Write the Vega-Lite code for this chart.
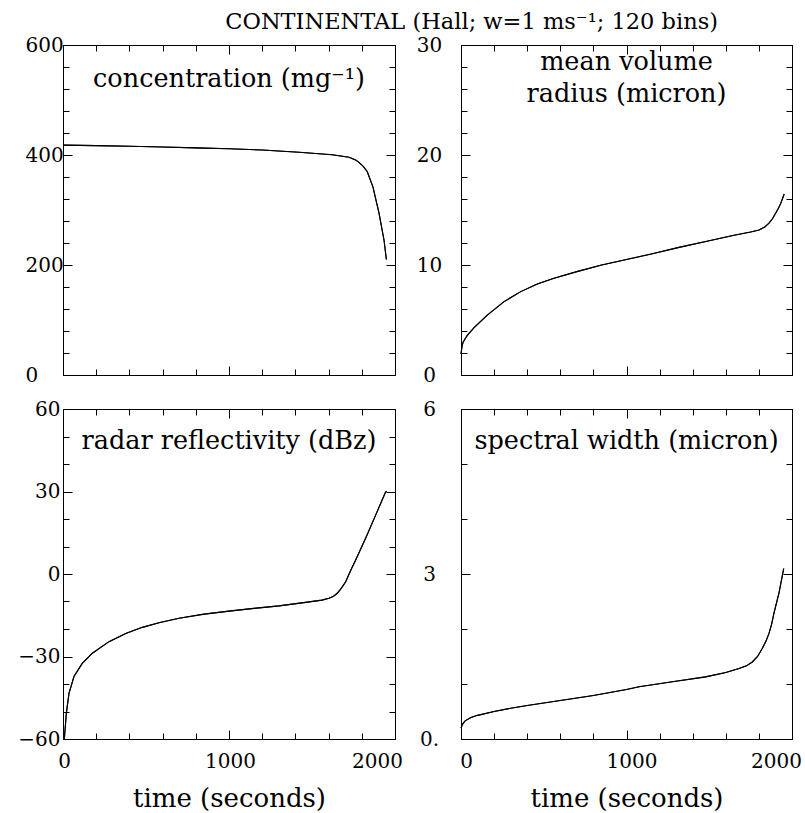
{
  "$schema": "https://vega.github.io/schema/vega-lite/v6.json",
  "padding": {"left": 17, "top": 11, "right": 5, "bottom": 5},
  "background": "white",
  "title": {"text": "CONTINENTAL (Hall; w=1 ms⁻¹; 120 bins)", "fontSize": 22.5, "font": "DejaVu Serif", "fontWeight": "normal", "anchor": "middle", "dx": 62, "offset": 1, "color": "black"},
  "datasets": {
    "conc": [
      {"t": 0, "v": 418}, {"t": 100, "v": 417.5}, {"t": 200, "v": 417}, {"t": 400, "v": 416}, {"t": 600, "v": 414.5},
      {"t": 800, "v": 413}, {"t": 1000, "v": 411.5}, {"t": 1200, "v": 409}, {"t": 1422, "v": 405}, {"t": 1622, "v": 400.5},
      {"t": 1723, "v": 395.8}, {"t": 1763, "v": 391}, {"t": 1783, "v": 386.7}, {"t": 1810, "v": 379}, {"t": 1833, "v": 369.6},
      {"t": 1867, "v": 342}, {"t": 1904, "v": 294}, {"t": 1934, "v": 245}, {"t": 1948, "v": 210}
    ],
    "radius": [
      {"t": 0, "v": 1.9}, {"t": 6, "v": 2.6}, {"t": 12, "v": 2.95}, {"t": 25, "v": 3.3}, {"t": 38, "v": 3.6}, {"t": 79, "v": 4.3},
      {"t": 159, "v": 5.45}, {"t": 260, "v": 6.67}, {"t": 361, "v": 7.58}, {"t": 461, "v": 8.27}, {"t": 562, "v": 8.79},
      {"t": 700, "v": 9.4}, {"t": 850, "v": 10.0}, {"t": 1000, "v": 10.5}, {"t": 1150, "v": 11.0}, {"t": 1317, "v": 11.6},
      {"t": 1500, "v": 12.2}, {"t": 1650, "v": 12.7}, {"t": 1750, "v": 13.0}, {"t": 1801, "v": 13.18}, {"t": 1835, "v": 13.45},
      {"t": 1861, "v": 13.8}, {"t": 1882, "v": 14.2}, {"t": 1901, "v": 14.7}, {"t": 1918, "v": 15.15}, {"t": 1932, "v": 15.6}, {"t": 1953, "v": 16.45}
    ],
    "radar": [
      {"t": 8, "v": -60}, {"t": 12, "v": -57}, {"t": 20, "v": -50.7}, {"t": 36, "v": -43.4}, {"t": 66, "v": -37.3},
      {"t": 116, "v": -32.5}, {"t": 177, "v": -28.8}, {"t": 277, "v": -24.6}, {"t": 378, "v": -21.6}, {"t": 478, "v": -19.4},
      {"t": 578, "v": -17.7}, {"t": 699, "v": -16.1}, {"t": 850, "v": -14.6}, {"t": 1000, "v": -13.5}, {"t": 1150, "v": -12.5},
      {"t": 1301, "v": -11.6}, {"t": 1450, "v": -10.4}, {"t": 1560, "v": -9.5}, {"t": 1602, "v": -8.85}, {"t": 1630, "v": -8.1}, {"t": 1652, "v": -7.0},
      {"t": 1675, "v": -5.3}, {"t": 1703, "v": -2.8}, {"t": 1730, "v": 0.9},
      {"t": 1763, "v": 5.1}, {"t": 1823, "v": 13}, {"t": 1884, "v": 21.5}, {"t": 1944, "v": 29.9}, {"t": 1950, "v": 30}
    ],
    "spec": [
      {"t": 0, "v": 0.2}, {"t": 10, "v": 0.27}, {"t": 25, "v": 0.33}, {"t": 60, "v": 0.39}, {"t": 100, "v": 0.43},
      {"t": 200, "v": 0.5}, {"t": 300, "v": 0.56}, {"t": 400, "v": 0.61}, {"t": 600, "v": 0.7}, {"t": 800, "v": 0.79},
      {"t": 1000, "v": 0.9}, {"t": 1076, "v": 0.95}, {"t": 1277, "v": 1.04}, {"t": 1478, "v": 1.13}, {"t": 1600, "v": 1.21}, {"t": 1680, "v": 1.28},
      {"t": 1725, "v": 1.33}, {"t": 1760, "v": 1.4}, {"t": 1792, "v": 1.5}, {"t": 1821, "v": 1.65}, {"t": 1843, "v": 1.78}, {"t": 1861, "v": 1.92}, {"t": 1877, "v": 2.09}, {"t": 1891, "v": 2.29}, {"t": 1921, "v": 2.65},
      {"t": 1946, "v": 3.04}, {"t": 1950, "v": 3.1}
    ],
    "labels": [
      {"panel": "conc", "label": "concentration (mg⁻¹)"},
      {"panel": "radius", "label": "mean volume\nradius (micron)"},
      {"panel": "radar", "label": "radar reflectivity (dBz)"},
      {"panel": "spec", "label": "spectral width (micron)"}
    ]
  },
  "concat": [
    {
      "width": 332, "height": 330,
      "data": {"name": "conc"},
      "layer": [
        {"mark": {"type": "line", "color": "black", "strokeWidth": 1.1},
         "encoding": {
           "x": {"field": "t", "type": "quantitative", "scale": {"domain": [0, 2000], "nice": false},
                 "axis": {"orient": "bottom", "values": [0,200,400,600,800,1000,1200,1400,1600,1800,2000], "labels": false, "title": null,
                          "tickSize": {"condition": {"test": "datum.value % 1000 === 0", "value": -9}, "value": -6}}},
           "y": {"field": "v", "type": "quantitative", "scale": {"domain": [0, 600], "nice": false},
                 "axis": {"orient": "left", "values": [0,40,80,120,160,200,240,280,320,360,400,440,480,520,560,600], "title": null,
                          "tickSize": {"condition": {"test": "datum.value % 200 === 0", "value": -9}, "value": -6},
                          "labelExpr": "datum.value % 200 === 0 ? datum.label : ''", "labelAlign": "left", "labelPadding": 47}}
         }},
        {"mark": {"type": "line", "color": "black", "strokeWidth": 1.1},
         "encoding": {
           "x": {"field": "t", "type": "quantitative",
                 "axis": {"orient": "top", "values": [0,200,400,600,800,1000,1200,1400,1600,1800,2000], "labels": false, "title": null,
                          "tickSize": {"condition": {"test": "datum.value % 1000 === 0", "value": -9}, "value": -6}}},
           "y": {"field": "v", "type": "quantitative",
                 "axis": {"orient": "right", "values": [0,40,80,120,160,200,240,280,320,360,400,440,480,520,560,600], "labels": false, "title": null,
                          "tickSize": {"condition": {"test": "datum.value % 200 === 0", "value": -9}, "value": -6}}}
         }},
        {"data": {"name": "labels"},
         "transform": [{"filter": "datum.panel === 'conc'"}],
         "mark": {"type": "text", "font": "DejaVu Serif", "fontSize": 25.5, "align": "center", "baseline": "alphabetic", "color": "black"},
         "encoding": {
           "x": {"datum": 1000, "type": "quantitative", "axis": null},
           "y": {"datum": 524, "type": "quantitative", "axis": null},
           "text": {"field": "label"}
         }}
      ],
      "resolve": {"axis": {"x": "independent", "y": "independent"}}
    },
    {
      "width": 331, "height": 330,
      "data": {"name": "radius"},
      "layer": [
        {"mark": {"type": "line", "color": "black", "strokeWidth": 1.1},
         "encoding": {
           "x": {"field": "t", "type": "quantitative", "scale": {"domain": [0, 2000], "nice": false},
                 "axis": {"orient": "bottom", "values": [0,200,400,600,800,1000,1200,1400,1600,1800,2000], "labels": false, "title": null,
                          "tickSize": {"condition": {"test": "datum.value % 1000 === 0", "value": -9}, "value": -6}}},
           "y": {"field": "v", "type": "quantitative", "scale": {"domain": [0, 30], "nice": false},
                 "axis": {"orient": "left", "values": [0,2,4,6,8,10,12,14,16,18,20,22,24,26,28,30], "title": null,
                          "tickSize": {"condition": {"test": "datum.value % 10 === 0", "value": -9}, "value": -6},
                          "labelExpr": "datum.value % 10 === 0 ? datum.label : ''", "labelAlign": "center", "labelPadding": 41}}
         }},
        {"mark": {"type": "line", "color": "black", "strokeWidth": 1.1},
         "encoding": {
           "x": {"field": "t", "type": "quantitative",
                 "axis": {"orient": "top", "values": [0,200,400,600,800,1000,1200,1400,1600,1800,2000], "labels": false, "title": null,
                          "tickSize": {"condition": {"test": "datum.value % 1000 === 0", "value": -9}, "value": -6}}},
           "y": {"field": "v", "type": "quantitative",
                 "axis": {"orient": "right", "values": [0,2,4,6,8,10,12,14,16,18,20,22,24,26,28,30], "labels": false, "title": null,
                          "tickSize": {"condition": {"test": "datum.value % 10 === 0", "value": -9}, "value": -6}}}
         }},
        {"data": {"name": "labels"},
         "transform": [{"filter": "datum.panel === 'radius'"}],
         "mark": {"type": "text", "font": "DejaVu Serif", "fontSize": 25.5, "align": "center", "baseline": "alphabetic", "lineBreak": "\n", "lineHeight": 32, "color": "black"},
         "encoding": {
           "x": {"datum": 1000, "type": "quantitative", "axis": null},
           "y": {"datum": 27.72, "type": "quantitative", "axis": null},
           "text": {"field": "label"}
         }}
      ],
      "resolve": {"axis": {"x": "independent", "y": "independent"}}
    },
    {
      "width": 332, "height": 330,
      "data": {"name": "radar"},
      "layer": [
        {"mark": {"type": "line", "color": "black", "strokeWidth": 1.1},
         "encoding": {
           "x": {"field": "t", "type": "quantitative", "scale": {"domain": [0, 2000], "nice": false},
                 "axis": {"orient": "bottom", "values": [0,200,400,600,800,1000,1200,1400,1600,1800,2000], "title": "time (seconds)", "format": "d",
                          "titleFontSize": 26, "titleFont": "DejaVu Serif", "titleFontWeight": "normal", "titlePadding": 11,
                          "tickSize": {"condition": {"test": "datum.value % 1000 === 0", "value": -9}, "value": -6},
                          "labelExpr": "datum.value % 1000 === 0 ? datum.label : ''", "labelPadding": 21,
                          "labelOffset": {"condition": {"test": "datum.value === 2000", "value": -18}, "value": 1}}},
           "y": {"field": "v", "type": "quantitative", "scale": {"domain": [-60, 60], "nice": false},
                 "axis": {"orient": "left", "values": [-60,-50,-40,-30,-20,-10,0,10,20,30,40,50,60], "title": null,
                          "tickSize": {"condition": {"test": "datum.value % 30 === 0", "value": -9}, "value": -6},
                          "labelExpr": "datum.value % 30 === 0 ? datum.label : ''", "labelAlign": "right", "labelPadding": 12}}
         }},
        {"mark": {"type": "line", "color": "black", "strokeWidth": 1.1},
         "encoding": {
           "x": {"field": "t", "type": "quantitative",
                 "axis": {"orient": "top", "values": [0,200,400,600,800,1000,1200,1400,1600,1800,2000], "labels": false, "title": null,
                          "tickSize": {"condition": {"test": "datum.value % 1000 === 0", "value": -9}, "value": -6}}},
           "y": {"field": "v", "type": "quantitative",
                 "axis": {"orient": "right", "values": [-60,-50,-40,-30,-20,-10,0,10,20,30,40,50,60], "labels": false, "title": null,
                          "tickSize": {"condition": {"test": "datum.value % 30 === 0", "value": -9}, "value": -6}}}
         }},
        {"data": {"name": "labels"},
         "transform": [{"filter": "datum.panel === 'radar'"}],
         "mark": {"type": "text", "font": "DejaVu Serif", "fontSize": 25.5, "align": "center", "baseline": "alphabetic", "color": "black"},
         "encoding": {
           "x": {"datum": 1000, "type": "quantitative", "axis": null},
           "y": {"datum": 45.5, "type": "quantitative", "axis": null},
           "text": {"field": "label"}
         }}
      ],
      "resolve": {"axis": {"x": "independent", "y": "independent"}}
    },
    {
      "width": 331, "height": 330,
      "data": {"name": "spec"},
      "layer": [
        {"mark": {"type": "line", "color": "black", "strokeWidth": 1.1},
         "encoding": {
           "x": {"field": "t", "type": "quantitative", "scale": {"domain": [0, 2000], "nice": false},
                 "axis": {"orient": "bottom", "values": [0,200,400,600,800,1000,1200,1400,1600,1800,2000], "title": "time (seconds)", "format": "d",
                          "titleFontSize": 26, "titleFont": "DejaVu Serif", "titleFontWeight": "normal", "titlePadding": 11,
                          "tickSize": {"condition": {"test": "datum.value % 1000 === 0", "value": -9}, "value": -6},
                          "labelExpr": "datum.value % 1000 === 0 ? datum.label : ''", "labelPadding": 21,
                          "labelOffset": {"condition": {"test": "datum.value === 2000", "value": -16}, "value": 5}}},
           "y": {"field": "v", "type": "quantitative", "scale": {"domain": [0, 6], "nice": false},
                 "axis": {"orient": "left", "values": [0,1,2,3,4,5,6], "title": null,
                          "tickSize": {"condition": {"test": "datum.value % 3 === 0", "value": -9}, "value": -6},
                          "labelExpr": "datum.value === 0 ? '0.' : (datum.value % 3 === 0 ? datum.label : '')", "labelAlign": "center", "labelPadding": 41}}
         }},
        {"mark": {"type": "line", "color": "black", "strokeWidth": 1.1},
         "encoding": {
           "x": {"field": "t", "type": "quantitative",
                 "axis": {"orient": "top", "values": [0,200,400,600,800,1000,1200,1400,1600,1800,2000], "labels": false, "title": null,
                          "tickSize": {"condition": {"test": "datum.value % 1000 === 0", "value": -9}, "value": -6}}},
           "y": {"field": "v", "type": "quantitative",
                 "axis": {"orient": "right", "values": [0,1,2,3,4,5,6], "labels": false, "title": null,
                          "tickSize": {"condition": {"test": "datum.value % 3 === 0", "value": -9}, "value": -6}}}
         }},
        {"data": {"name": "labels"},
         "transform": [{"filter": "datum.panel === 'spec'"}],
         "mark": {"type": "text", "font": "DejaVu Serif", "fontSize": 25.5, "align": "center", "baseline": "alphabetic", "color": "black"},
         "encoding": {
           "x": {"datum": 1000, "type": "quantitative", "axis": null},
           "y": {"datum": 5.27, "type": "quantitative", "axis": null},
           "text": {"field": "label"}
         }}
      ],
      "resolve": {"axis": {"x": "independent", "y": "independent"}}
    }
  ],
  "columns": 2,
  "spacing": {"row": 34, "column": 66},
  "bounds": "flush",
  "config": {
    "font": "DejaVu Serif",
    "view": {"stroke": "black", "strokeWidth": 1},
    "axis": {"domainColor": "black", "domainWidth": 1, "tickColor": "black", "tickWidth": 1, "labelColor": "black", "titleColor": "black",
             "grid": false, "labelFontSize": 20, "labelFont": "DejaVu Serif", "labelOverlap": false, "labelBound": false, "labelFlush": false}
  }
}
